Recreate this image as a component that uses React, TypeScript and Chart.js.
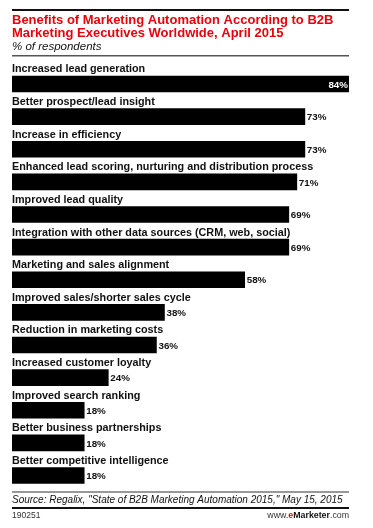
import React, { useEffect, useRef } from "react";
import { Chart, registerables } from "chart.js";

Chart.register(...registerables);

const categories = [
  "Increased lead generation",
  "Better prospect/lead insight",
  "Increase in efficiency",
  "Enhanced lead scoring, nurturing and distribution process",
  "Improved lead quality",
  "Integration with other data sources (CRM, web, social)",
  "Marketing and sales alignment",
  "Improved sales/shorter sales cycle",
  "Reduction in marketing costs",
  "Increased customer loyalty",
  "Improved search ranking",
  "Better business partnerships",
  "Better competitive intelligence",
];
const values = [84, 73, 73, 71, 69, 69, 58, 38, 36, 24, 18, 18, 18];

const titleLines = [
  "Benefits of Marketing Automation According to B2B",
  "Marketing Executives Worldwide, April 2015",
];
const subtitle = "% of respondents";
const sourceText = 'Source: Regalix, "State of B2B Marketing Automation 2015," May 15, 2015';
const chartId = "190251";

const W = 373;
const H = 528;
const L = 12;
const R = 349;

const textPlugin = {
  id: "textPlugin",
  afterDatasetsDraw(chart: any) {
    const ctx = chart.ctx as CanvasRenderingContext2D;
    const meta = chart.getDatasetMeta(0);
    ctx.save();
    // top rule
    ctx.fillStyle = "#111";
    ctx.fillRect(L, 9, R - L, 2);
    // title
    ctx.fillStyle = "#e8000b";
    ctx.font = "bold 13px 'Liberation Sans', Arial, sans-serif";
    ctx.textBaseline = "middle";
    ctx.textAlign = "left";
    ctx.fillText(titleLines[0], L, 20.5);
    ctx.fillText(titleLines[1], L, 33.5);
    ctx.fillStyle = "#111";
    ctx.font = "italic 11.5px 'Liberation Sans', Arial, sans-serif";
    ctx.fillText(subtitle, L, 46.5);
    ctx.fillStyle = "#555";
    ctx.fillRect(L, 55, R - L, 1.5);

    // category labels and values
    meta.data.forEach((bar: any, i: number) => {
      const top = bar.y - bar.height / 2;
      ctx.fillStyle = "#111";
      ctx.font = "bold 10.8px 'Liberation Sans', Arial, sans-serif";
      ctx.textAlign = "left";
      ctx.textBaseline = "middle";
      ctx.fillText(categories[i], L, top - 6.5);
      const label = values[i] + "%";
      ctx.font = "bold 9.8px 'Liberation Sans', Arial, sans-serif";
      if (i === 0) {
        ctx.fillStyle = "#fff";
        ctx.textAlign = "right";
        ctx.fillText(label, bar.x - 1, bar.y + 1);
      } else {
        ctx.fillStyle = "#111";
        ctx.textAlign = "left";
        ctx.fillText(label, bar.x + 2, bar.y + 1);
      }
    });

    // footer
    ctx.fillStyle = "#333";
    ctx.fillRect(L, 491.5, R - L, 1);
    ctx.fillStyle = "#111";
    ctx.font = "italic 10px 'Liberation Sans', Arial, sans-serif";
    ctx.textAlign = "left";
    ctx.fillText(sourceText, L, 500);
    ctx.fillRect(L, 507, R - L, 2);
    ctx.fillStyle = "#333";
    ctx.font = "8.5px 'Liberation Sans', Arial, sans-serif";
    ctx.fillText(chartId, L, 516);
    // www.eMarketer.com right aligned
    const parts = [
      { t: "www.", f: "8.8px 'Liberation Sans', Arial, sans-serif", c: "#333" },
      { t: "e", f: "bold 8.8px 'Liberation Sans', Arial, sans-serif", c: "#e8000b" },
      { t: "Marketer", f: "bold 8.8px 'Liberation Sans', Arial, sans-serif", c: "#111" },
      { t: ".com", f: "8.8px 'Liberation Sans', Arial, sans-serif", c: "#333" },
    ];
    let total = 0;
    parts.forEach((p) => {
      ctx.font = p.f;
      total += ctx.measureText(p.t).width;
    });
    let x = R - total;
    parts.forEach((p) => {
      ctx.font = p.f;
      ctx.fillStyle = p.c;
      ctx.fillText(p.t, x, 516);
      x += ctx.measureText(p.t).width;
    });
    ctx.restore();
  },
};

export default function App() {
  const ref = useRef<HTMLCanvasElement>(null);
  useEffect(() => {
    if (!ref.current) return;
    const chart = new Chart(ref.current, {
      type: "bar",
      data: {
        labels: categories,
        datasets: [
          {
            data: values,
            backgroundColor: "#000",
            borderWidth: 0,
            barThickness: 16,
          },
        ],
      },
      options: {
        indexAxis: "y",
        responsive: false,
        animation: false,
        maintainAspectRatio: false,
        layout: { padding: { left: L, right: W - R, top: 67.7, bottom: H - 491.8 } },
        plugins: { legend: { display: false }, tooltip: { enabled: false } },
        scales: {
          x: { display: false, min: 0, max: 84 },
          y: { display: false },
        },
      },
      plugins: [textPlugin],
    });
    return () => chart.destroy();
  }, []);
  return (
    <div style={{ position: "fixed", left: 0, top: 0, width: W, height: H, background: "#fff" }}>
      <canvas ref={ref} width={W} height={H} style={{ width: W, height: H }} />
    </div>
  );
}
